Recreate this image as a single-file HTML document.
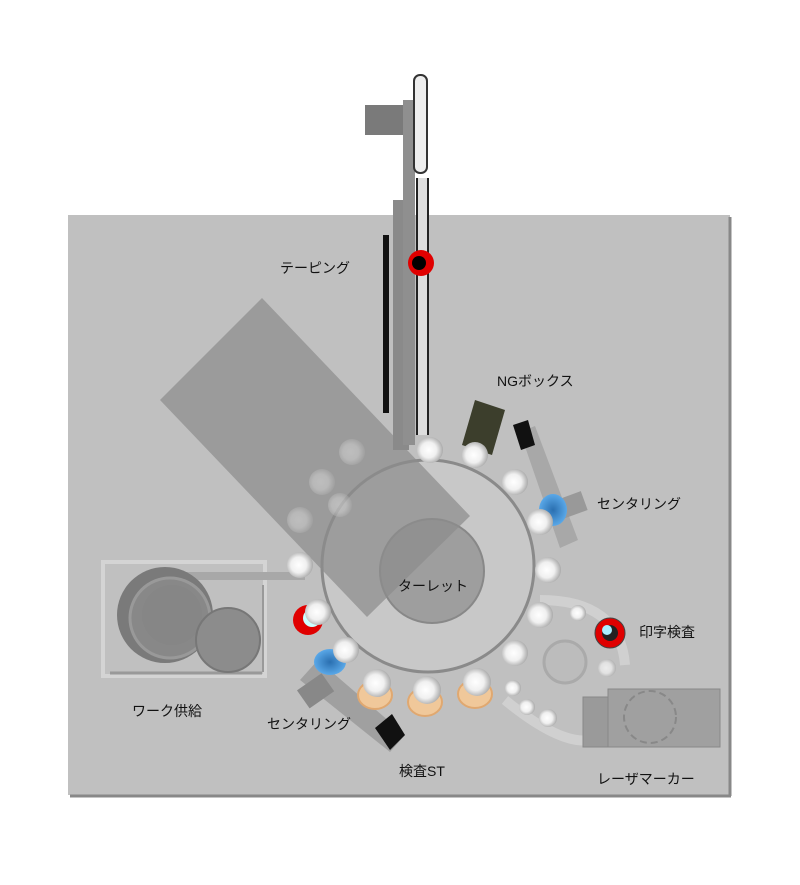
<!DOCTYPE html>
<html><head><meta charset="utf-8"><style>
body{margin:0;background:#fff;width:800px;height:880px;overflow:hidden}
text{font-family:"Liberation Sans","Noto Sans CJK JP",sans-serif;font-size:14px;fill:#111}
</style></head><body>
<svg width="800" height="880" viewBox="0 0 800 880" xmlns="http://www.w3.org/2000/svg">
<defs>
<radialGradient id="ball" cx="45%" cy="50%" r="55%"><stop offset="0" stop-color="#fff"/><stop offset="0.55" stop-color="#f0f0f0"/><stop offset="1" stop-color="#aaa"/></radialGradient>
<radialGradient id="blue" cx="50%" cy="50%" r="50%"><stop offset="0" stop-color="#2a6fb0"/><stop offset="1" stop-color="#5aa8e8"/></radialGradient>
</defs>
<rect x="68" y="215" width="662" height="580" fill="#c0c0c0"/>
<line x1="730" y1="217" x2="730" y2="796" stroke="#888" stroke-width="3"/>
<line x1="70" y1="796" x2="731" y2="796" stroke="#888" stroke-width="3"/>

<!-- work supply -->
<rect x="103" y="562" width="162" height="114" fill="none" stroke="#d4d4d4" stroke-width="4"/>
<line x1="110" y1="673" x2="262" y2="673" stroke="#999" stroke-width="3"/>
<rect x="175" y="572" width="130" height="8" fill="#a8a8a8"/>
<line x1="263" y1="585" x2="263" y2="672" stroke="#999" stroke-width="2"/>
<circle cx="165" cy="615" r="48" fill="#7a7a7a"/>
<circle cx="170" cy="618" r="40" fill="#888" stroke="#999" stroke-width="3"/>
<circle cx="172" cy="615" r="30" fill="#868686"/>
<circle cx="228" cy="640" r="32" fill="#8c8c8c" stroke="#777" stroke-width="2"/>

<!-- print arc track -->
<path d="M505 700 Q560 745 590 740" fill="none" stroke="#d0d0d0" stroke-width="10"/>
<path d="M540 600 Q620 600 625 665" fill="none" stroke="#d0d0d0" stroke-width="10"/>
<circle cx="565" cy="662" r="21" fill="#bcbcbc" stroke="#aaa" stroke-width="3"/>

<!-- laser marker -->
<rect x="583" y="697" width="30" height="50" fill="#9a9a9a" stroke="#888"/>
<rect x="608" y="689" width="112" height="58" fill="#a0a0a0" stroke="#888"/>
<circle cx="650" cy="717" r="26" fill="none" stroke="#888" stroke-width="2" stroke-dasharray="7 4"/>

<!-- turret -->
<circle cx="428" cy="566" r="106" fill="#c8c8c8" stroke="#8a8a8a" stroke-width="3"/>
<circle cx="432" cy="571" r="52" fill="#9e9e9e" stroke="#888" stroke-width="2"/>

<!-- big rotated rect -->
<polygon points="160,400 262,298 470,516 367,617" fill="#8c8c8c" fill-opacity="0.72"/>

<!-- faint balls -->
<g fill="url(#ball)" opacity="0.35">
<circle cx="300" cy="520" r="13"/><circle cx="322" cy="482" r="13"/><circle cx="352" cy="452" r="13"/><circle cx="340" cy="505" r="12"/>
</g>

<!-- NG box & conveyor -->
<polygon points="475,400 505,410 492,455 462,445" fill="#3c3e2c"/>
<polygon points="520,432 535,426 578,540 560,548" fill="#a8a8a8"/>
<polygon points="513,425 528,420 535,445 521,450" fill="#111"/>
<rect x="560" y="495" width="25" height="20" fill="#999" transform="rotate(-20 572 505)"/>

<!-- centering bottom-left conveyor -->
<polygon points="300,680 318,660 405,735 390,752" fill="#a0a0a0"/>
<polygon points="375,728 392,714 405,735 390,750" fill="#111"/>
<rect x="300" y="680" width="30" height="22" fill="#888" transform="rotate(-35 315 690)"/>

<!-- orange rings -->
<g fill="#f0c89a" stroke="#e0a870" stroke-width="2">
<ellipse cx="375" cy="695" rx="17" ry="14"/><ellipse cx="425" cy="702" rx="17" ry="14"/><ellipse cx="475" cy="694" rx="17" ry="14"/>
</g>
<!-- blue -->
<ellipse cx="330" cy="662" rx="16" ry="13" fill="url(#blue)"/>
<ellipse cx="553" cy="510" rx="14" ry="16" fill="url(#blue)"/>
<!-- red rings -->
<circle cx="308" cy="620" r="15" fill="#e00000"/><circle cx="312" cy="618" r="9" fill="#ccffff"/>
<circle cx="610" cy="633" r="15" fill="#e00000" stroke="#444" stroke-width="1"/><circle cx="610" cy="633" r="8" fill="#222"/><circle cx="607" cy="630" r="5" fill="#aef"/>

<!-- balls -->
<g fill="url(#ball)">
<circle cx="300" cy="565" r="13"/><circle cx="318" cy="612" r="13"/><circle cx="346" cy="650" r="13"/>
<circle cx="377" cy="683" r="14"/><circle cx="427" cy="690" r="14"/><circle cx="477" cy="682" r="14"/>
<circle cx="515" cy="653" r="13"/><circle cx="540" cy="615" r="13"/><circle cx="548" cy="570" r="13"/>
<circle cx="540" cy="522" r="13"/><circle cx="515" cy="482" r="13"/><circle cx="475" cy="455" r="13"/>
<circle cx="430" cy="450" r="13"/>
<circle cx="578" cy="613" r="8"/><circle cx="513" cy="688" r="8"/><circle cx="527" cy="707" r="8"/><circle cx="548" cy="718" r="9"/><circle cx="607" cy="668" r="9" opacity="0.7"/>
</g>

<!-- taping structure -->
<rect x="365" y="105" width="48" height="30" fill="#7a7a7a"/>
<rect x="393" y="200" width="16" height="250" fill="#8a8a8a"/>
<rect x="403" y="100" width="12" height="345" fill="#8f8f8f"/>
<rect x="414" y="75" width="13" height="98" rx="6" fill="#eee" stroke="#333" stroke-width="2"/>
<line x1="417" y1="178" x2="417" y2="435" stroke="#222" stroke-width="2"/>
<line x1="428" y1="178" x2="428" y2="435" stroke="#222" stroke-width="2"/>
<rect x="418" y="178" width="9" height="257" fill="#ddd"/>
<rect x="383" y="235" width="6" height="178" fill="#111"/>
<circle cx="421" cy="263" r="13" fill="#e00000"/><circle cx="419" cy="263" r="7" fill="#000"/>

<text x="280" y="273">テーピング</text>
<text x="497" y="386">NGボックス</text>
<text x="597" y="509">センタリング</text>
<text x="398" y="591">ターレット</text>
<text x="639" y="637">印字検査</text>
<text x="132" y="716">ワーク供給</text>
<text x="267" y="729">センタリング</text>
<text x="399" y="776">検査ST</text>
<text x="597" y="784">レーザマーカー</text>
</svg>
</body></html>
